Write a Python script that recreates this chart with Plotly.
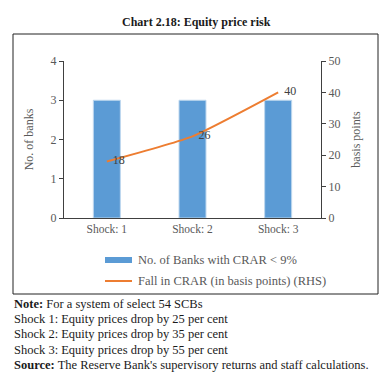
import plotly.graph_objects as go

categories = ["Shock: 1", "Shock: 2", "Shock: 3"]
banks = [3, 3, 3]
fall_bps = [18, 26, 40]
left_ticks = [0, 1, 2, 3, 4]
right_ticks = [0, 10, 20, 30, 40, 50]
title_text = "<b>Chart 2.18: Equity price risk</b>"
legend_labels = ["No. of Banks with CRAR &lt; 9%", "Fall in CRAR (in basis points) (RHS)"]
notes = [
    "<b>Note:</b> For a system of select 54 SCBs",
    "Shock 1: Equity prices drop by 25 per cent",
    "Shock 2: Equity prices drop by 35 per cent",
    "Shock 3: Equity prices drop by 55 per cent",
    "<b>Source:</b> The Reserve Bank's supervisory returns and staff calculations.",
]

OFF = 8  # page body margin
W, H = 392 - OFF, 382 - OFF
L, R, T, B = 64 - OFF, 321 - OFF, 61 - OFF, 218 - OFF  # plot area in figure pixels
SERIF = "Liberation Serif"
BLUE = "#5B9BD5"
ORANGE = "#ED7D31"
GRAY = "#595959"

def px(x):  # x in page pixels
    return (x - OFF - L) / (R - L)

def py(y):
    return (B - (y - OFF)) / (B - T)

fig = go.Figure()
fig.add_trace(go.Bar(x=categories, y=banks, marker=dict(color=BLUE, line=dict(color="#BDD7EE", width=1)),
                     width=0.315, name=legend_labels[0], showlegend=False))
fig.add_trace(go.Scatter(x=categories, y=fall_bps, yaxis="y2", mode="lines+text",
                         line=dict(color=ORANGE, width=2, shape="spline", smoothing=0.5),
                         text=["  " + str(v) for v in fall_bps],
                         textposition="middle right", textfont=dict(family=SERIF, size=12, color="#404040"),
                         name=legend_labels[1], showlegend=False, cliponaxis=False))

axis_common = dict(showgrid=False, zeroline=False, showline=True, linecolor="#404040", linewidth=1,
                   ticks="outside", ticklen=4, tickcolor="#404040", automargin=False,
                   tickfont=dict(family=SERIF, size=12, color=GRAY))

fig.update_layout(
    width=W, height=H, margin=dict(l=L, r=W - R, t=T, b=H - B),
    paper_bgcolor="white", plot_bgcolor="white", showlegend=False,
    xaxis=dict(showgrid=False, zeroline=False, showline=True, linecolor="#404040", ticks="", automargin=False,
               tickfont=dict(family=SERIF, size=11.5, color=GRAY)),
    yaxis=dict(range=[0, 4], tickvals=left_ticks, **axis_common,
               title=dict(text="No. of banks", font=dict(family=SERIF, size=12, color=GRAY), standoff=14)),
    yaxis2=dict(range=[0, 50], tickvals=right_ticks, overlaying="y", side="right", **axis_common,
                title=dict(text="basis points", font=dict(family=SERIF, size=12, color=GRAY), standoff=12)),
)

shapes = [
    dict(type="rect", xref="paper", yref="paper", x0=px(13), x1=px(378), y0=py(294), y1=py(34),
         line=dict(color="#222222", width=1), layer="below"),
    dict(type="rect", xref="paper", yref="paper", x0=px(105), x1=px(132), y0=py(263), y1=py(257),
         fillcolor=BLUE, line=dict(width=0)),
    dict(type="line", xref="paper", yref="paper", x0=px(105), x1=px(132), y0=py(281), y1=py(281),
         line=dict(color=ORANGE, width=2)),
]
fig.update_layout(shapes=shapes)

annotations = [
    dict(text=title_text, x=px(196), y=py(22), xref="paper", yref="paper", showarrow=False,
         xanchor="center", yanchor="middle", font=dict(family=SERIF, size=12, color="#1a1a1a")),
    dict(text=legend_labels[0], x=px(136), y=py(260), xref="paper", yref="paper", showarrow=False,
         xanchor="left", yanchor="middle", font=dict(family=SERIF, size=12.5, color=GRAY)),
    dict(text=legend_labels[1], x=px(136), y=py(281), xref="paper", yref="paper", showarrow=False,
         xanchor="left", yanchor="middle", font=dict(family=SERIF, size=12.5, color=GRAY)),
]
note_y = [304, 319, 334, 350, 365]
for t, yy in zip(notes, note_y):
    annotations.append(dict(text=t, x=px(12), y=py(yy), xref="paper", yref="paper", showarrow=False,
                            xanchor="left", yanchor="middle", font=dict(family=SERIF, size=12.5, color="#1a1a1a")))
fig.update_layout(annotations=annotations)

fig.write_html("out.html")
